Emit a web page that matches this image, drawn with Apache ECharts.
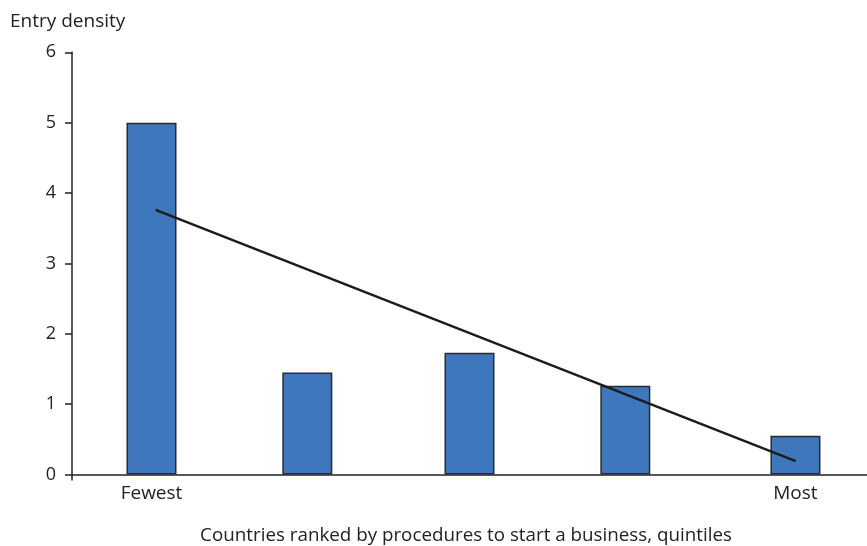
<!DOCTYPE html>
<html>
<head>
<meta charset="utf-8">
<script src="https://cdn.jsdelivr.net/npm/echarts@6/dist/echarts.min.js"></script>
<style>html,body{margin:0;padding:0;background:#fff}#c{width:867px;height:546px}</style>
</head>
<body>
<div id="c"></div>
<script>
const categories = ["Fewest", "", "", "", "Most"];
const xPositions = [0.5, 1.48, 2.50, 3.48, 4.55];
const entryDensity = [5.0, 1.45, 1.73, 1.26, 0.55];
const trendX = [0.526, 4.552];
const trendY = [3.76, 0.19];
const yTicks = [0, 1, 2, 3, 4, 5, 6];

const font = "'Open Sans', 'Noto Sans', sans-serif";
const chart = echarts.init(document.getElementById('c'));
chart.setOption({
  animation: false,
  backgroundColor: '#fff',
  grid: { left: 72, right: 0, top: 52.3, bottom: 71.5 },
  title: [
    { text: 'Entry density', left: 5, top: 7,
      textStyle: { fontFamily: font, fontSize: 19, fontWeight: 'normal', color: '#222' } },
    { text: 'Countries ranked by procedures to start a business, quintiles', left: 461, top: 521, textAlign: 'center',
      textStyle: { fontFamily: font, fontSize: 18.8, fontWeight: 'normal', color: '#222' } }
  ],
  xAxis: {
    type: 'value', min: 0, max: 5,
    splitLine: { show: false },
    axisLine: { show: true, lineStyle: { color: '#222', width: 1.5 } },
    axisTick: { show: true, customValues: [0], length: 6, lineStyle: { color: '#222', width: 1.5 } },
    axisLabel: {
      show: true, customValues: [xPositions[0], xPositions[4]], margin: 10,
      fontFamily: font, fontSize: 19, color: '#222',
      formatter: function (v) {
        let best = 0, d = 1e9;
        xPositions.forEach((p, i) => { if (Math.abs(p - v) < d) { d = Math.abs(p - v); best = i; } });
        return categories[best];
      }
    }
  },
  yAxis: {
    type: 'value', min: 0, max: 6, interval: 1,
    splitLine: { show: false },
    axisLine: { show: true, lineStyle: { color: '#222', width: 1.5 } },
    axisTick: { show: true, length: 7, lineStyle: { color: '#222', width: 1.5 } },
    axisLabel: { margin: 16, fontFamily: font, fontSize: 18, color: '#222',
      formatter: v => yTicks.includes(v) ? String(v) : '' }
  },
  series: [
    {
      type: 'bar', barWidth: 50,
      data: xPositions.map((x, i) => [x, entryDensity[i]]),
      itemStyle: { color: '#3f77bc', borderColor: '#2b2b2b', borderWidth: 1.5 }
    },
    {
      type: 'line', symbol: 'none',
      data: trendX.map((x, i) => [x, trendY[i]]),
      lineStyle: { color: '#1c1c1c', width: 2.5 }
    }
  ]
});
</script>
</body>
</html>
